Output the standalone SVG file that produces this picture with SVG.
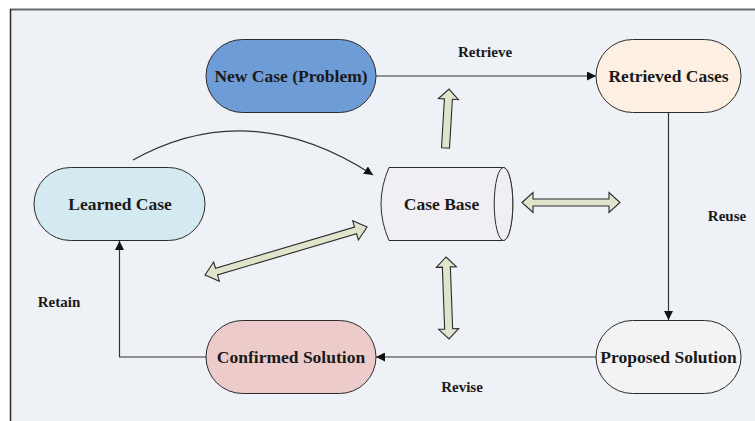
<svg xmlns="http://www.w3.org/2000/svg" width="755" height="421" viewBox="0 0 755 421">
  <style>
    .node { stroke: #2b2b2b; stroke-width: 1; }
    .lbl { font-family: "Liberation Serif", "Times New Roman", serif; font-weight: bold; font-size: 17.5px; fill: #1a1a1a; text-anchor: middle; }
    .edge-lbl { font-family: "Liberation Serif", "Times New Roman", serif; font-weight: bold; font-size: 15px; fill: #1a1a1a; text-anchor: middle; }
    .conn { fill: none; stroke: #333333; stroke-width: 1.2; }
    .block { fill: #DFE4CB; stroke: #2b2b2b; stroke-width: 1.1; stroke-linejoin: miter; }
  </style>
  <defs>
    <marker id="ah" viewBox="0 0 10 10" refX="10" refY="5" markerWidth="9" markerHeight="9" markerUnits="userSpaceOnUse" orient="auto">
      <path d="M0,0 L10,5 L0,10 Z" fill="#111111"/>
    </marker>
  </defs>

  <rect x="0" y="0" width="755" height="421" fill="#ffffff"/>
  <rect x="10" y="9" width="745" height="412" fill="#EEF1F6"/>
  <line x1="10" y1="9.5" x2="755" y2="9.5" stroke="#6a6a6a" stroke-width="2"/>
  <line x1="10.5" y1="9" x2="10.5" y2="421" stroke="#2a2a2a" stroke-width="1.5"/>

  <g id="connectors">
    <line class="conn" x1="376" y1="76" x2="596" y2="76" marker-end="url(#ah)"/>
    <line class="conn" x1="668.5" y1="113" x2="668.5" y2="320" marker-end="url(#ah)"/>
    <line class="conn" x1="596" y1="357" x2="376" y2="357" marker-end="url(#ah)"/>
    <polyline class="conn" points="206,357 119.5,357 119.5,241" stroke="#555555" marker-end="url(#ah)"/>
    <path class="conn" d="M133,160 Q250,95 373,175" marker-end="url(#ah)"/>
    <polygon class="block" transform="translate(445.5,148) rotate(-86.6)" points="0,-4 49,-4 49,-10 59,0 49,10 49,4 0,4"/>
    <polygon class="block" transform="translate(446,257) rotate(87.9)" points="0,0 10,-10 10,-4 72,-4 72,-10 82,0 72,10 72,4 10,4 10,10"/>
    <polygon class="block" transform="translate(522,202.5)" points="0,0 11,-10 11,-3.5 87,-3.5 87,-10 98,0 87,10 87,3.5 11,3.5 11,10"/>
    <polygon class="block" transform="translate(205,275) rotate(-16.5)" points="0,0 12,-10 12,-3.5 157,-3.5 157,-10 169,0 157,10 157,3.5 12,3.5 12,10"/>
  </g>

  <g id="labels">
    <text class="edge-lbl" x="485" y="57">Retrieve</text>
    <text class="edge-lbl" x="727" y="221">Reuse</text>
    <text class="edge-lbl" x="462" y="392">Revise</text>
    <text class="edge-lbl" x="59" y="307">Retain</text>
  </g>

  <g id="new-case">
    <rect class="node" x="206" y="39.5" width="170" height="73" rx="36.5" fill="#6E9CD7"/>
    <text class="lbl" x="291" y="82">New Case (Problem)</text>
  </g>
  <g id="retrieved-cases">
    <rect class="node" x="596" y="39.5" width="145" height="73" rx="36.5" fill="#FDEFE1"/>
    <text class="lbl" x="668.5" y="82">Retrieved Cases</text>
  </g>
  <g id="learned-case">
    <rect class="node" x="34" y="167.5" width="171" height="73" rx="36.5" fill="#D2EAF0"/>
    <text class="lbl" x="120" y="210">Learned Case</text>
  </g>
  <g id="case-base">
    <path class="node" d="M389,167.5 L503.5,167.5 A9.3,36.5 0 0 1 503.5,240.5 L389,240.5 Q373,204 389,167.5 Z" fill="#F1EEF4"/>
    <ellipse class="node" cx="503.5" cy="204" rx="9.3" ry="36.5" fill="#F1EEF4"/>
    <text class="lbl" x="441.5" y="210">Case Base</text>
  </g>
  <g id="confirmed-solution">
    <rect class="node" x="206" y="320.5" width="170" height="73" rx="36.5" fill="#EDCBCA"/>
    <text class="lbl" x="291" y="363">Confirmed Solution</text>
  </g>
  <g id="proposed-solution">
    <rect class="node" x="596" y="320.5" width="145" height="73" rx="36.5" fill="#F3F3F3"/>
    <text class="lbl" x="668.5" y="363">Proposed Solution</text>
  </g>
</svg>
